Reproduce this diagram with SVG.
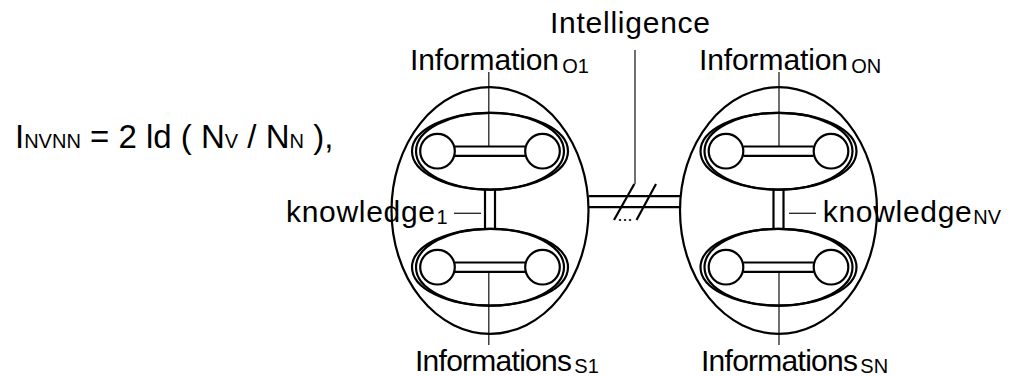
<svg xmlns="http://www.w3.org/2000/svg" width="1015" height="376" viewBox="0 0 1015 376">
<style>
.s{fill:none;stroke:#000;stroke-width:2.2}
.ld{fill:none;stroke:#222;stroke-width:1.3}
text{font-family:"Liberation Sans",Arial,Helvetica,sans-serif;fill:#000}
.t{font-size:30px}
.sub{font-size:20px}
</style>
<defs>
<g id="info">
<ellipse class="s" cx="0" cy="0" rx="78" ry="38.4"/>
<ellipse class="s" cx="0" cy="0" rx="74" ry="38.4"/>
<line class="s" x1="-35.2" y1="-4.7" x2="35.2" y2="-4.7"/>
<line class="s" x1="-35.2" y1="4.7" x2="35.2" y2="4.7"/>
<circle class="s" cx="-52.5" cy="0" r="17.3"/>
<circle class="s" cx="52.5" cy="0" r="17.3"/>
</g>
<g id="know">
<ellipse class="s" cx="0" cy="210.5" rx="98.5" ry="123.3"/>
<use href="#info" x="0" y="151.2"/>
<use href="#info" x="0" y="267.2"/>
<line class="s" x1="-5" y1="189.6" x2="-5" y2="228.8"/>
<line class="s" x1="5" y1="189.6" x2="5" y2="228.8"/>
</g>
</defs>

<g id="connectors">
<line class="s" x1="589" y1="196.2" x2="680" y2="196.2"/>
<line class="s" x1="589" y1="207.2" x2="680" y2="207.2"/>
<line class="s" x1="614" y1="220" x2="634.3" y2="184"/>
<line class="s" x1="636.5" y1="220" x2="656" y2="184"/>
<text x="617.5" y="221" style="font-size:18px">...</text>
<line class="ld" x1="635" y1="50" x2="635" y2="184"/>
<line class="ld" x1="488.8" y1="72" x2="488.8" y2="146"/>
<line class="ld" x1="779" y1="72" x2="779" y2="146"/>
<line class="ld" x1="488.8" y1="272" x2="488.8" y2="345"/>
<line class="ld" x1="779" y1="272" x2="779" y2="345"/>
<line class="ld" x1="454" y1="213.3" x2="481" y2="213.3"/>
<line class="ld" x1="789" y1="213.3" x2="816" y2="213.3"/>
</g>

<g id="formula">
<text x="15" y="148" style="font-size:33px">I<tspan style="font-size:20px">NVNN</tspan> = 2 ld ( N<tspan style="font-size:20px">V</tspan> / N<tspan style="font-size:20px">N</tspan> ),</text>
</g>

<g id="intelligence">
<text class="t" x="550" y="33" textLength="160">Intelligence</text>
</g>

<g id="knowledge1">
<use href="#know" x="490" y="0"/>
<text class="t" x="286" y="221.7" textLength="149">knowledge</text>
<text class="sub" x="436.5" y="224.2">1</text>
</g>

<g id="knowledgeNV">
<use href="#know" x="778.5" y="0"/>
<text class="t" x="822.7" y="221.7" textLength="149">knowledge</text>
<text class="sub" x="973.3" y="224.2">NV</text>
</g>

<g id="informationO1">
<text class="t" x="410" y="70" textLength="149">Information</text>
<text class="sub" x="562.3" y="72.7">O1</text>
</g>

<g id="informationON">
<text class="t" x="699" y="70" textLength="149">Information</text>
<text class="sub" x="851.3" y="72.7">ON</text>
</g>

<g id="informationsS1">
<text class="t" x="415" y="371" textLength="157">Informations</text>
<text class="sub" x="574.3" y="373.3">S1</text>
</g>

<g id="informationsSN">
<text class="t" x="701" y="371" textLength="157">Informations</text>
<text class="sub" x="860.3" y="373.3">SN</text>
</g>
</svg>
